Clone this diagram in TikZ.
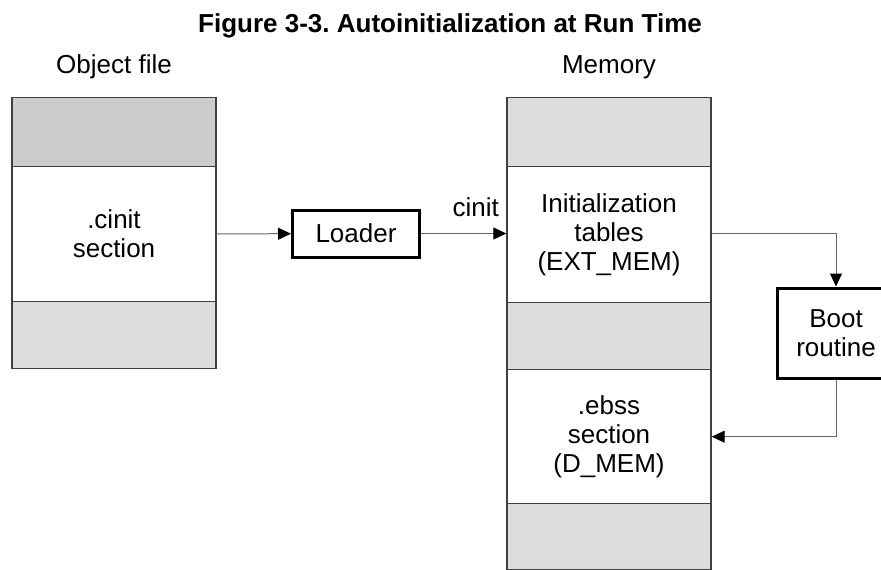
\documentclass[tikz,border=0pt]{standalone}
\usepackage{fontspec}
\setmainfont{Liberation Sans}
\usepackage{tikz}
\usetikzlibrary{arrows.meta}
\usetikzlibrary{positioning}
\definecolor{segdark}{RGB}{204,204,204}
\definecolor{seglight}{RGB}{221,221,221}
\definecolor{segedge}{RGB}{64,64,64}
\definecolor{flowline}{RGB}{100,100,100}
\frenchspacing
\begin{document}
\begin{tikzpicture}[line join=miter,x=1pt,y=-1pt,
  >={Triangle[length=13pt,width=12pt,color=black]},
  txt/.style={font=\fontsize{26}{29}\selectfont,align=center},
  seg/.style={txt,draw=segedge,line width=1.4pt,minimum width=204pt,inner sep=0pt,anchor=north},
  procbox/.style={txt,draw=black,line width=3pt,inner sep=0pt,fill=white},
  flow/.style={->,draw=flowline,line width=1pt}]
\useasboundingbox (0,0) rectangle (881,570);
\clip (0,0) rectangle (881,570);
\node[font=\bfseries\fontsize{26}{30}\selectfont] (title) at (450,26) {Figure 3-3. Autoinitialization at Run Time};
\node[txt] (objlbl) at (114,67) {Object file};
\node[txt] (memlbl) at (609,67) {Memory};
% object file
\node[seg,fill=segdark,minimum height=69pt] (objtop) at (114,97) {};
\node[seg,fill=white,minimum height=135pt] (cinit) at (114,166) {.cinit\\section};
\node[seg,fill=seglight,minimum height=67pt] (objbot) at (114,301) {};
% memory
\node[seg,fill=seglight,minimum height=69pt] (memtop) at (609,97) {};
\node[seg,fill=white,minimum height=136pt] (inittab) at (609,166) {Initialization\\tables\\(EXT\_MEM)};
\node[seg,fill=seglight,minimum height=67pt] (memgap) at (609,302) {};
\node[seg,fill=white,minimum height=134pt] (ebss) at (609,369) {.ebss\\section\\(D\_MEM)};
\node[seg,fill=seglight,minimum height=66pt] (membot) at (609,503) {};
% loader and boot routine
\node[procbox,minimum width=127pt,minimum height=47pt] (loader) at (356,233.5) {Loader};
\node[procbox,minimum width=118pt,minimum height=90pt] (boot) at (836,333) {Boot\\routine};
\draw[flow] (cinit) -- (loader);
\draw[flow] (loader) -- (loader -| inittab.west) node[pos=1,anchor=south east,inner sep=2pt,xshift=-5pt,yshift=14pt,txt] (cinitlbl) {cinit};
\draw[flow] (inittab.east |- loader) -| (boot.north);
\draw[flow] (boot.south) |- (ebss.east);
\end{tikzpicture}
\end{document}
